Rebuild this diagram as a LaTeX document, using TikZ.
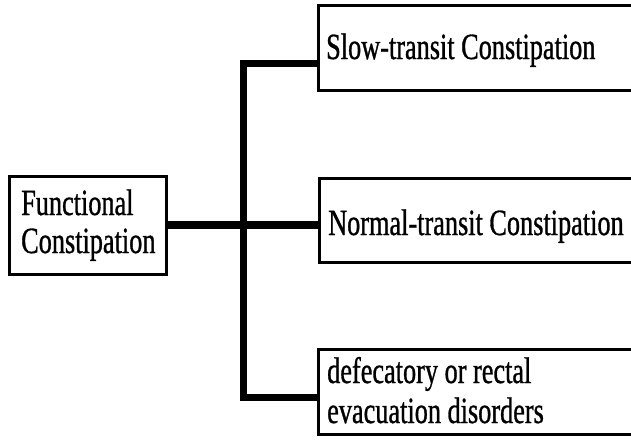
\documentclass[tikz,border=0pt]{standalone}
\usepackage{fontspec}
\setmainfont[FakeStretch=0.71,FakeBold=0.8]{Liberation Serif}
\begin{document}
\begin{tikzpicture}[x=1pt,y=-1pt,
  box/.style={draw=black,line width=3pt,fill=white,inner sep=0pt},
  conn/.style={draw=black,line width=7pt,line join=miter},
  lbl/.style={anchor=base west,inner sep=0pt,font=\fontsize{37}{37}\selectfont}]
\useasboundingbox (0,0) rectangle (631,439);
\fill[white] (0,0) rectangle (631,439);
% boxes
\node[box,minimum width=157pt,minimum height=98pt] (f) at (88,225) {};
\node[box,minimum width=320pt,minimum height=85pt] (s) at (478.5,47.5) {};
\node[box,minimum width=320pt,minimum height=84pt] (n) at (479.5,220) {};
\node[box,minimum width=320pt,minimum height=85pt] (d) at (478.5,391.5) {};
% texts
\node[lbl] (f1) at (21,215) {Functional};
\node[lbl] (f2) at (21,253) {Constipation};
\node[lbl] (s1) at (326,59) {Slow-transit Constipation};
\node[lbl] (n1) at (328,235) {Normal-transit Constipation};
\node[lbl] (d1) at (327,383) {defecatory or rectal};
\node[lbl] (d2) at (327,423) {evacuation disorders};
% connectors
\draw[conn] (s.west |- 0,63) -- (243,63) -- (243,397) -- (d.west |- 0,397);
\draw[conn,line width=8pt] (f.east) -- (n.west |- f.east);
\end{tikzpicture}
\end{document}
